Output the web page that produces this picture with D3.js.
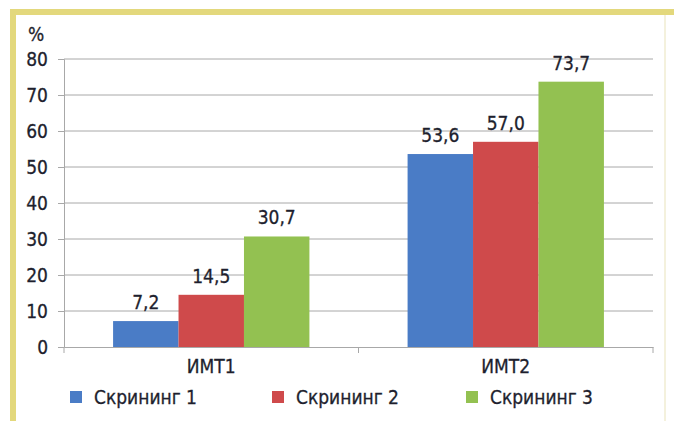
<!DOCTYPE html>
<html>
<head>
<meta charset="utf-8">
<script src="https://cdn.jsdelivr.net/npm/d3@7"></script>
<style>
  body { margin: 0; background: #fff; }
  text { font-family: "DejaVu Sans Condensed", "Liberation Sans", sans-serif; fill: #1e1f2e; stroke: #1e1f2e; stroke-width: 0.3px; }
</style>
</head>
<body>
<div id="chart"></div>
<script>
// chart values
var categories = ["ИМТ1", "ИМТ2"]
var seriesNames = ["Скрининг 1", "Скрининг 2", "Скрининг 3"]
var screening1 = [7.2, 53.6]
var screening2 = [14.5, 57.0]
var screening3 = [30.7, 73.7]
var yTicks = [0, 10, 20, 30, 40, 50, 60, 70, 80]
var colors = ["#4a7cc6", "#cf4a4b", "#93c151"]

var svgSize = { width: 674, height: 421 }
var margin = { top: 59, bottom: 74, left: 64, right: 21 }
var chartSize = {
    width: svgSize.width - margin.left - margin.right,
    height: svgSize.height - margin.top - margin.bottom
}
var fontSize = "19px"

var svg = d3.select("#chart").append("svg")
            .attr("width", svgSize.width)
            .attr("height", svgSize.height)

// yellow frame
svg.append("rect").attr("x", 10).attr("y", 9).attr("width", 664).attr("height", 6).attr("fill", "#e3d87c")
svg.append("rect").attr("x", 10).attr("y", 9).attr("width", 6).attr("height", 412).attr("fill", "#e3d87c")
svg.append("line").attr("x1", 665).attr("x2", 665).attr("y1", 15).attr("y2", 421)
   .attr("stroke", "#f1edd2").attr("stroke-width", 1.5)

var frame = svg.append("g").attr("transform", `translate(${margin.left}, ${margin.top})`)

var series = [screening1, screening2, screening3]
var data = []
categories.forEach((c, i) => {
    series.forEach((s, j) => data.push({ cat: c, series: j, value: s[i] }))
})

var xScale = d3.scaleBand().domain(categories).range([0, chartSize.width])
var inner = d3.scaleBand().domain([0, 1, 2]).range([0, xScale.bandwidth()]).paddingOuter(0.75)
var yScale = d3.scaleLinear().domain([0, 80]).range([chartSize.height, 0])

// gridlines
frame.append("g").selectAll("line").data(yTicks.slice(1)).enter().append("line")
     .attr("x1", 0).attr("x2", chartSize.width)
     .attr("y1", d => yScale(d)).attr("y2", d => yScale(d))
     .attr("stroke", "#a8a8a8").attr("stroke-width", 1)

var leftAxis = d3.axisLeft(yScale).tickValues(yTicks).tickSize(6).tickPadding(10)
var yAxis = frame.append("g").call(leftAxis)
yAxis.attr("font-family", null)
yAxis.select(".domain").attr("stroke", "#a8a8a8")
yAxis.selectAll(".tick line").attr("stroke", "#a8a8a8")
yAxis.selectAll("text").style("font-size", fontSize).attr("fill", "#1e1f2e")

frame.append("text").attr("x", -36).attr("y", -18).text("%").style("font-size", fontSize)

// bars
frame.append("g").selectAll("rect").data(data).enter().append("rect")
     .attr("x", d => xScale(d.cat) + inner(d.series))
     .attr("width", inner.bandwidth())
     .attr("y", d => yScale(d.value))
     .attr("height", d => yScale(0) - yScale(d.value))
     .attr("fill", d => colors[d.series])

// value labels
frame.append("g").selectAll("text").data(data).enter().append("text")
     .attr("x", d => xScale(d.cat) + inner(d.series) + inner.bandwidth() / 2)
     .attr("y", d => yScale(d.value) - 12)
     .attr("text-anchor", "middle")
     .style("font-size", fontSize)
     .text(d => d.value.toFixed(1).replace(".", ","))

// x axis
var bottomAxis = d3.axisBottom(xScale).tickSize(0).tickFormat(() => "")
var xAxis = frame.append("g").attr("transform", `translate(0, ${chartSize.height})`).call(bottomAxis)
xAxis.select(".domain").attr("stroke", "#a8a8a8")
xAxis.selectAll(".tick").remove()
frame.append("g").selectAll("line").data([0, chartSize.width / 2, chartSize.width]).enter().append("line")
     .attr("x1", d => d).attr("x2", d => d)
     .attr("y1", chartSize.height).attr("y2", chartSize.height + 6)
     .attr("stroke", "#a8a8a8")
frame.append("g").selectAll("text").data(categories).enter().append("text")
     .attr("x", d => xScale(d) + xScale.bandwidth() / 2)
     .attr("y", chartSize.height + 26)
     .attr("text-anchor", "middle")
     .style("font-size", fontSize)
     .text(d => d)

// legend
var legendX = [70, 272, 466]
var legend = svg.append("g").selectAll("g").data(seriesNames).enter().append("g")
     .attr("transform", (d, i) => `translate(${legendX[i]}, 397)`)
legend.append("rect").attr("x", 0).attr("y", -6).attr("width", 12).attr("height", 12)
      .attr("fill", (d, i) => colors[i])
legend.append("text").attr("x", 24).attr("y", 7).style("font-size", fontSize).text(d => d)
</script>
</body>
</html>
